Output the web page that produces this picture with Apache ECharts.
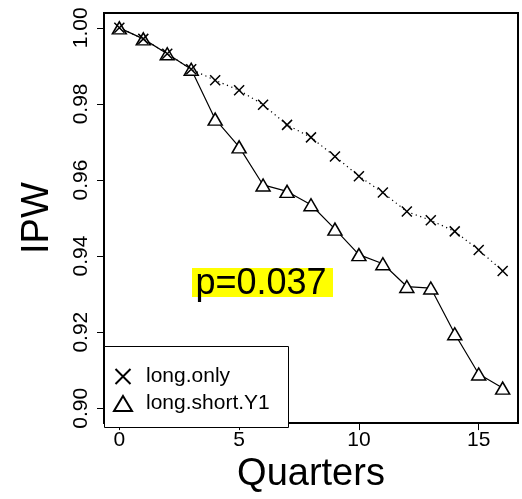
<!DOCTYPE html>
<html>
<head>
<meta charset="utf-8">
<script src="https://cdn.jsdelivr.net/npm/echarts@6/dist/echarts.min.js"></script>
<style>
  html, body { margin: 0; padding: 0; background: #fff; }
  #chart { width: 522px; height: 499px; }
</style>
</head>
<body>
<div id="chart"></div>
<script>
// quarters 0..16
const quarters = [0, 1, 2, 3, 4, 5, 6, 7, 8, 9, 10, 11, 12, 13, 14, 15, 16];
const longOnly = [1.000, 0.9971, 0.9932, 0.9891, 0.9862, 0.9836, 0.9798, 0.9745, 0.9712,
                  0.9662, 0.9610, 0.9567, 0.9517, 0.9494, 0.9465, 0.9416, 0.9361];
const longShortY1 = [1.000, 0.9971, 0.9932, 0.9891, 0.9760, 0.9687, 0.9587, 0.9570, 0.9535,
                     0.9471, 0.9404, 0.9380, 0.9320, 0.9316, 0.9196, 0.9090, 0.9053];
const xTicks = [0, 5, 10, 15];
const yTicks = [0.90, 0.92, 0.94, 0.96, 0.98, 1.00];
const pLabel = 'p=0.037';

const FONT = '"Liberation Sans", Arial, sans-serif';
const crossPath = 'path://M0,0L10,10M10,0L0,10';

const chart = echarts.init(document.getElementById('chart'));

const option = {
    animation: false,
    backgroundColor: '#fff',
    textStyle: { fontFamily: FONT, color: '#000' },
    grid: {
        left: 104, right: 4, top: 13, bottom: 72,
        show: true,
        borderColor: '#000',
        borderWidth: 2,
        backgroundColor: 'transparent'
    },
    xAxis: {
        type: 'value',
        min: -0.64,
        max: 16.64,
        name: 'Quarters',
        nameLocation: 'middle',
        nameGap: 28,
        nameTextStyle: { fontSize: 38, fontFamily: FONT, color: '#000' },
        axisLine: { show: false, onZero: false },
        splitLine: { show: false },
        axisTick: {
            show: true, inside: false, length: 7,
            customValues: xTicks,
            lineStyle: { color: '#000', width: 1 }
        },
        axisLabel: {
            customValues: xTicks,
            fontSize: 21, fontFamily: FONT, color: '#000', margin: 7,
            formatter: v => String(v)
        }
    },
    yAxis: {
        type: 'value',
        min: 0.8961,
        max: 1.0039,
        name: 'IPW',
        nameLocation: 'middle',
        nameGap: 47,
        nameTextStyle: { fontSize: 38, fontFamily: FONT, color: '#000' },
        axisLine: { show: false, onZero: false },
        splitLine: { show: false },
        axisTick: {
            show: true, inside: false, length: 7,
            customValues: yTicks,
            lineStyle: { color: '#000', width: 1 }
        },
        axisLabel: {
            customValues: yTicks,
            rotate: 90,
            fontSize: 21, fontFamily: FONT, color: '#000', margin: 12,
            formatter: v => v.toFixed(2)
        }
    },
    legend: {
        orient: 'vertical',
        left: 113,
        top: 366,
        padding: 0,
        itemGap: 6,
        itemWidth: 18,
        itemHeight: 15,
        z: 5,
        textStyle: { fontSize: 21, fontFamily: FONT, color: '#000', padding: [0, 0, 0, 9] },
        data: [
            { name: 'long.only', icon: crossPath,
              itemStyle: { color: 'transparent', borderColor: '#000', borderWidth: 2 } },
            { name: 'long.short.Y1', icon: 'triangle',
              itemStyle: { color: '#fff', borderColor: '#000', borderWidth: 2 } }
        ]
    },
    graphic: [
        {
            type: 'rect', z: 3,
            shape: { x: 104.5, y: 346.5, width: 184, height: 81 },
            style: { fill: '#fff', stroke: '#000', lineWidth: 1 }
        },
        {
            type: 'rect', z: 3,
            shape: { x: 192, y: 268, width: 141, height: 29 },
            style: { fill: '#ffff00' }
        },
        {
            type: 'text', z: 4,
            style: {
                text: pLabel, x: 261, y: 284,
                align: 'center', verticalAlign: 'middle',
                font: '36px ' + FONT, fill: '#000'
            }
        }
    ],
    series: [
        {
            name: 'long.short.Y1',
            type: 'line',
            z: 2,
            data: quarters.map((q, i) => [q, longShortY1[i]]),
            symbol: 'triangle',
            symbolSize: [14, 12],
            showAllSymbol: true,
            itemStyle: { color: '#fff', borderColor: '#000', borderWidth: 1.5 },
            lineStyle: { color: '#000', width: 1.2, type: 'solid' },
            emphasis: { disabled: true }
        },
        {
            name: 'long.only',
            type: 'line',
            z: 3,
            data: quarters.map((q, i) => [q, longOnly[i]]),
            symbol: crossPath,
            symbolSize: 10,
            showAllSymbol: true,
            itemStyle: { color: 'transparent', borderColor: '#000', borderWidth: 1.5 },
            lineStyle: { color: '#000', width: 1.2, type: [1.2, 3.5] },
            emphasis: { disabled: true }
        }
    ]
};

chart.setOption(option);
</script>
</body>
</html>
